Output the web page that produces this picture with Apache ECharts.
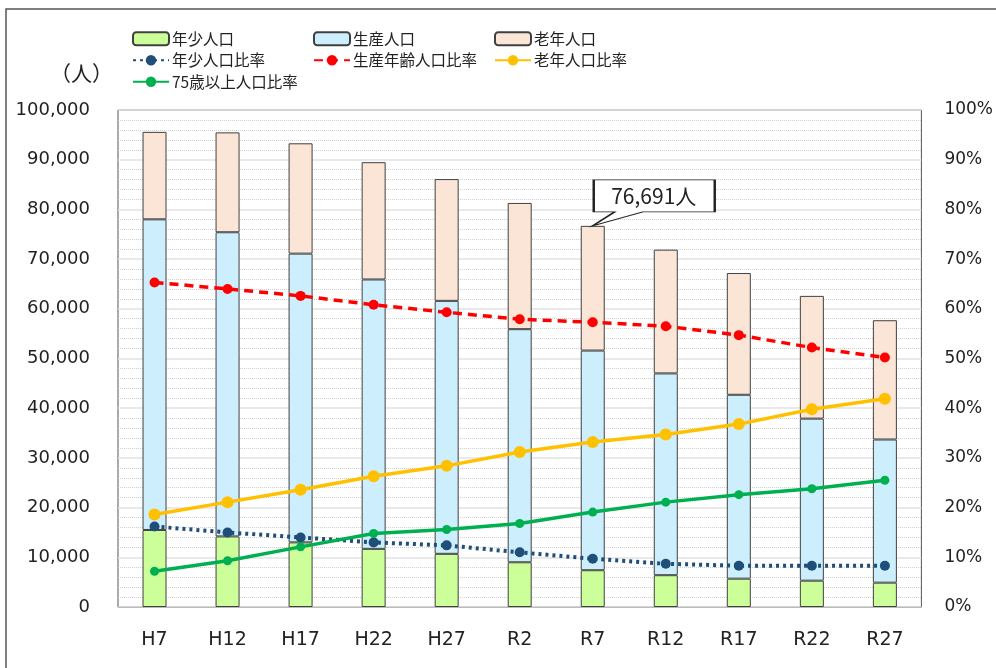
<!DOCTYPE html>
<html>
<head>
<meta charset="utf-8">
<script src="https://cdn.jsdelivr.net/npm/echarts@6/dist/echarts.min.js"></script>
<style>
  html, body { margin: 0; padding: 0; background: #fff; }
  #chart { width: 996px; height: 668px; }
</style>
</head>
<body>
<div id="chart"></div>
<script>
// 年次区分
const categories = ['H7', 'H12', 'H17', 'H22', 'H27', 'R2', 'R7', 'R12', 'R17', 'R22', 'R27'];

// 人口（人）
const youngPop = [15500, 14200, 13000, 11700, 10700, 9000, 7400, 6400, 5700, 5300, 4900];
const workingPop = [62500, 61200, 58100, 54200, 50900, 46900, 44200, 40600, 37000, 32600, 28800];
const elderlyPop = [17600, 20100, 22200, 23600, 24500, 25400, 25091, 24900, 24500, 24700, 24000];

// 比率（%）
const youngRate = [16.2, 15.0, 14.0, 13.0, 12.4, 11.0, 9.7, 8.7, 8.3, 8.3, 8.3];
const workingRate = [65.3, 64.0, 62.6, 60.8, 59.3, 57.9, 57.3, 56.5, 54.7, 52.2, 50.2];
const elderlyRate = [18.6, 21.1, 23.6, 26.3, 28.4, 31.2, 33.2, 34.7, 36.8, 39.8, 41.9];
const over75Rate = [7.2, 9.3, 12.1, 14.8, 15.6, 16.8, 19.1, 21.1, 22.6, 23.8, 25.5];

// 吹き出し
const calloutCategory = 'R7';
const calloutValue = 76691;

const font = '"Noto Sans CJK JP", "Noto Sans", sans-serif';
const numFont = '"DejaVu Sans", "Noto Sans", sans-serif';

const chart = echarts.init(document.getElementById('chart'), null, { renderer: 'canvas' });

const barBorder = { borderColor: '#404040', borderWidth: 1 };
const legendText = { fontFamily: font, fontSize: 15.5, color: '#222', padding: [0, 0, 0, -2] };

const option = {
  backgroundColor: '#fff',
  animation: false,
  textStyle: { fontFamily: font },
  graphic: [
    {
      type: 'rect',
      shape: { x: 6, y: 9, width: 1100, height: 800 },
      style: { fill: 'none', stroke: '#555', lineWidth: 1.5 },
      silent: true
    },
    {
      type: 'text',
      left: 50,
      top: 63,
      style: { text: '（人）', fontFamily: font, fontSize: 21, fill: '#222' }
    }
  ],
  legend: [
    {
      orient: 'vertical', left: 127, top: 26, itemWidth: 36, itemHeight: 13, itemGap: 6,
      textStyle: legendText,
      data: ['年少人口', '年少人口比率', '75歳以上人口比率']
    },
    {
      orient: 'vertical', left: 308, top: 26, itemWidth: 36, itemHeight: 13, itemGap: 6,
      textStyle: legendText,
      data: ['生産人口', '生産年齢人口比率']
    },
    {
      orient: 'vertical', left: 489, top: 26, itemWidth: 36, itemHeight: 13, itemGap: 6,
      textStyle: legendText,
      data: ['老年人口', '老年人口比率']
    }
  ],
  grid: {
    left: 118, right: 74, top: 110, bottom: 61,
    show: true, borderColor: '#555', borderWidth: 1
  },
  xAxis: {
    type: 'category',
    data: categories,
    axisLine: { show: true, lineStyle: { color: '#bbb' } },
    axisTick: { show: false },
    axisLabel: { fontFamily: numFont, fontSize: 19, color: '#222', margin: 24 }
  },
  yAxis: [
    {
      type: 'value',
      min: 0, max: 100000, interval: 10000,
      axisLine: { show: false },
      axisTick: { show: false },
      axisLabel: {
        fontFamily: numFont, fontSize: 18, color: '#222', margin: 28,
        formatter: v => v.toLocaleString('en-US')
      },
      splitLine: { lineStyle: { color: '#e2e2e2', width: 1.5 } },
      minorTick: { show: false, splitNumber: 5 },
      minorSplitLine: { show: true, lineStyle: { color: '#d0d0d0', type: 'dotted', width: 1 } }
    },
    {
      type: 'value',
      min: 0, max: 100, interval: 10,
      axisLine: { show: false },
      axisTick: { show: false },
      axisLabel: { fontFamily: numFont, fontSize: 17, color: '#222', margin: 23, formatter: '{value}%' },
      splitLine: { show: false }
    }
  ],
  series: [
    {
      name: '年少人口', type: 'bar', stack: 'pop', barWidth: 24,
      data: youngPop,
      itemStyle: Object.assign({ color: '#ccff99' }, barBorder)
    },
    {
      name: '生産人口', type: 'bar', stack: 'pop', barWidth: 24,
      data: workingPop,
      itemStyle: Object.assign({ color: '#cdeefd' }, barBorder)
    },
    {
      name: '老年人口', type: 'bar', stack: 'pop', barWidth: 24,
      data: elderlyPop,
      itemStyle: Object.assign({ color: '#fbe5d6' }, barBorder),
      markPoint: {
        z: 20,
        symbol: 'path://M1 0 L122 0 L122 32 L50 32 L0 46 L22 32 L1 32 Z',
        symbolSize: [122, 46],
        symbolOffset: [61, -23],
        itemStyle: { color: '#fff', borderColor: '#222', borderWidth: 1.5 },
        label: {
          show: true, position: 'inside', offset: [0, -7],
          fontFamily: font, fontSize: 21, color: '#222',
          formatter: p => p.value.toLocaleString('en-US') + '人'
        },
        data: [{ coord: [calloutCategory, calloutValue], value: calloutValue }]
      }
    },
    {
      name: '年少人口比率', type: 'line', yAxisIndex: 1, z: 5,
      data: youngRate,
      symbol: 'circle', symbolSize: 10,
      lineStyle: { color: '#1f4e79', width: 4, type: [3, 4] },
      itemStyle: { color: '#1f4e79' }
    },
    {
      name: '生産年齢人口比率', type: 'line', yAxisIndex: 1, z: 5,
      data: workingRate,
      symbol: 'circle', symbolSize: 10,
      lineStyle: { color: '#ff0000', width: 3.5, type: [9, 6] },
      itemStyle: { color: '#ff0000' }
    },
    {
      name: '老年人口比率', type: 'line', yAxisIndex: 1, z: 5,
      data: elderlyRate,
      symbol: 'circle', symbolSize: 12,
      lineStyle: { color: '#ffc000', width: 3.5 },
      itemStyle: { color: '#ffc000' }
    },
    {
      name: '75歳以上人口比率', type: 'line', yAxisIndex: 1, z: 5,
      data: over75Rate,
      symbol: 'circle', symbolSize: 9,
      lineStyle: { color: '#00b050', width: 3.5 },
      itemStyle: { color: '#00b050' }
    }
  ]
};

chart.setOption(option);
</script>
</body>
</html>
